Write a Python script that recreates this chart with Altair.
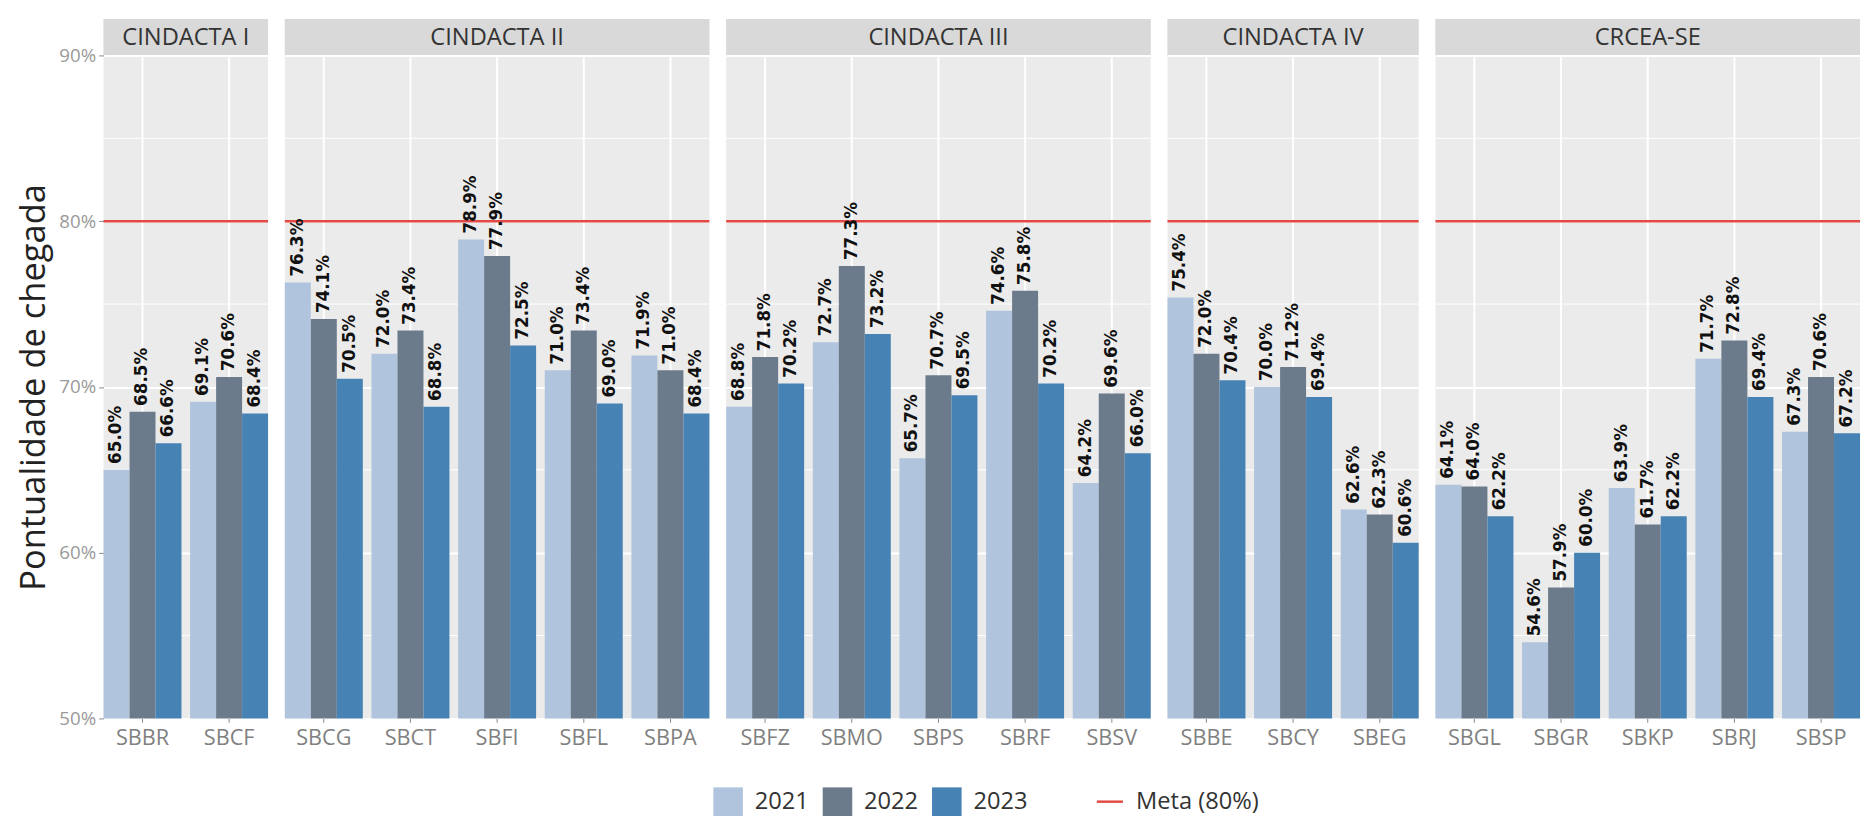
import altair as alt
import pandas as pd

# ---------------- data ----------------
regions = ["CINDACTA I", "CINDACTA II", "CINDACTA III", "CINDACTA IV", "CRCEA-SE"]
airports = ["SBBR", "SBCF",
            "SBCG", "SBCT", "SBFI", "SBFL", "SBPA",
            "SBFZ", "SBMO", "SBPS", "SBRF", "SBSV",
            "SBBE", "SBCY", "SBEG",
            "SBGL", "SBGR", "SBKP", "SBRJ", "SBSP"]
airport_region = ["CINDACTA I"] * 2 + ["CINDACTA II"] * 5 + ["CINDACTA III"] * 5 + \
                 ["CINDACTA IV"] * 3 + ["CRCEA-SE"] * 5
v2021 = [65.0, 69.1, 76.3, 72.0, 78.9, 71.0, 71.9, 68.8, 72.7, 65.7, 74.6, 64.2,
         75.4, 70.0, 62.6, 64.1, 54.6, 63.9, 71.7, 67.3]
v2022 = [68.5, 70.6, 74.1, 73.4, 77.9, 73.4, 71.0, 71.8, 77.3, 70.7, 75.8, 69.6,
         72.0, 71.2, 62.3, 64.0, 57.9, 61.7, 72.8, 70.6]
v2023 = [66.6, 68.4, 70.5, 68.8, 72.5, 69.0, 68.4, 70.2, 73.2, 69.5, 70.2, 66.0,
         70.4, 69.4, 60.6, 62.2, 60.0, 62.2, 69.4, 67.2]
years = ["2021", "2022", "2023"]
year_colors = ["#b0c4de", "#6c7b8b", "#4682b4"]
meta_value = 80
meta_label = "Meta (80%)"
y_major = [50, 60, 70, 80, 90]
y_minor = [55, 65, 75, 85]

rows = []
for a, r, x1, x2, x3 in zip(airports, airport_region, v2021, v2022, v2023):
    for yr, v in zip(years, [x1, x2, x3]):
        rows.append({"region": r, "airport": a, "year": yr, "value": v,
                     "label": f"{v:.1f}%"})
df = pd.DataFrame(rows)

STEP = 88
STRIP_H = 37
PLOT_H = 673
FONT = "Open Sans"

color_scale = alt.Scale(domain=years, range=year_colors)
y_scale = alt.Scale(domain=[50, 90], nice=False, zero=False)


def panel(region, first):
    sub = df[df.region == region]
    n = sub.airport.nunique()
    W = n * STEP - 9
    order = [a for a in airports if a in set(sub.airport)]

    if first:
        yaxis = alt.Axis(values=y_major, labelExpr="datum.value + '%'",
                         title="Pontualidade de chegada", titleFont=FONT,
                         titleFontSize=35, titleFontWeight="normal", titleColor="#222222",
                         titlePadding=8, labelFont=FONT, labelFontSize=19,
                         labelColor="#9a9a9a", labelPadding=3, tickSize=5,
                         tickColor="#8a8a8a", domain=False, grid=True,
                         gridColor="white", gridWidth=2)
    else:
        yaxis = alt.Axis(values=y_major, labels=False, ticks=False, title=None,
                         domain=False, grid=True, gridColor="white", gridWidth=2)

    xenc = alt.X("airport:N", sort=order,
                 scale=alt.Scale(paddingInner=0.1, paddingOuter=0),
                 axis=alt.Axis(title=None, labelAngle=0, labelFont=FONT,
                               labelFontSize=22, labelColor="#808080", labelPadding=5,
                               tickSize=4, tickColor="#8a8a8a", domain=False,
                               grid=True, gridColor="white", gridWidth=2))
    xoff = alt.XOffset("year:N", sort=years,
                       scale=alt.Scale(paddingInner=0, paddingOuter=0))

    base = alt.Chart(sub)

    minor = alt.Chart(pd.DataFrame({"v": y_minor})).mark_rule(
        color="white", strokeWidth=1).encode(y=alt.Y("v:Q", scale=y_scale, axis=yaxis))

    bars = base.mark_bar().encode(
        x=xenc, xOffset=xoff,
        y=alt.Y("value:Q", scale=y_scale, axis=yaxis),
        y2=alt.datum(50),
        color=alt.Color("year:N", scale=color_scale,
                        legend=alt.Legend(orient="none", legendX=619, legendY=780,
                                          direction="horizontal", title=None,
                                          symbolType="square", symbolSize=900,
                                          symbolStrokeWidth=0, labelFont=FONT,
                                          labelFontSize=24, labelColor="#333333",
                                          labelOffset=12, columnPadding=14,
                                          padding=0)),
    )

    meta = alt.Chart(pd.DataFrame({"v": [meta_value], "k": [meta_label]})).mark_rule(
        strokeWidth=2.5).encode(
        y=alt.Y("v:Q", scale=y_scale),
        stroke=alt.Stroke("k:N", scale=alt.Scale(domain=[meta_label], range=["#e34a45"]),
                          legend=alt.Legend(orient="none", legendX=1007, legendY=780,
                                            title=None, symbolType="stroke",
                                            symbolSize=700, symbolStrokeWidth=2.5,
                                            labelFont=FONT, labelFontSize=24,
                                            labelColor="#333333", labelOffset=12,
                                            padding=0)),
    )

    text = base.mark_text(angle=270, align="left", baseline="middle", dx=6,
                          font="DejaVu Sans", fontWeight="bold", fontSize=17,
                          color="#111111").encode(
        x=xenc, xOffset=xoff,
        y=alt.Y("value:Q", scale=y_scale),
        text="label:N",
    )

    body = alt.layer(minor, bars, meta, text).properties(width=W, height=PLOT_H)

    strip_df = pd.DataFrame({"region": [region]})
    strip_bg = alt.Chart(strip_df).mark_rect(color="#d9d9d9").encode(
        x=alt.value(0), x2=alt.value(W), y=alt.value(0), y2=alt.value(STRIP_H))
    strip_tx = alt.Chart(strip_df).mark_text(font=FONT, fontSize=24, color="#333333",
                                             baseline="middle", align="center").encode(
        x=alt.value(W / 2), y=alt.value(STRIP_H / 2 + 1), text="region:N")
    strip = alt.layer(strip_bg, strip_tx).properties(width=W, height=STRIP_H)

    return alt.vconcat(strip, body, spacing=0, bounds="flush")


panels = [panel(r, i == 0) for i, r in enumerate(regions)]

chart = alt.hconcat(*panels, spacing=13).resolve_scale(
    x="independent", xOffset="independent", color="shared", stroke="shared"
).properties(
    padding={"left": 8, "top": 5, "right": 0, "bottom": 0},
    background="white",
).configure_view(
    stroke=None, fill="#ebebeb"
)

chart.save("out.html", embed_options={"renderer": "svg", "actions": False})
